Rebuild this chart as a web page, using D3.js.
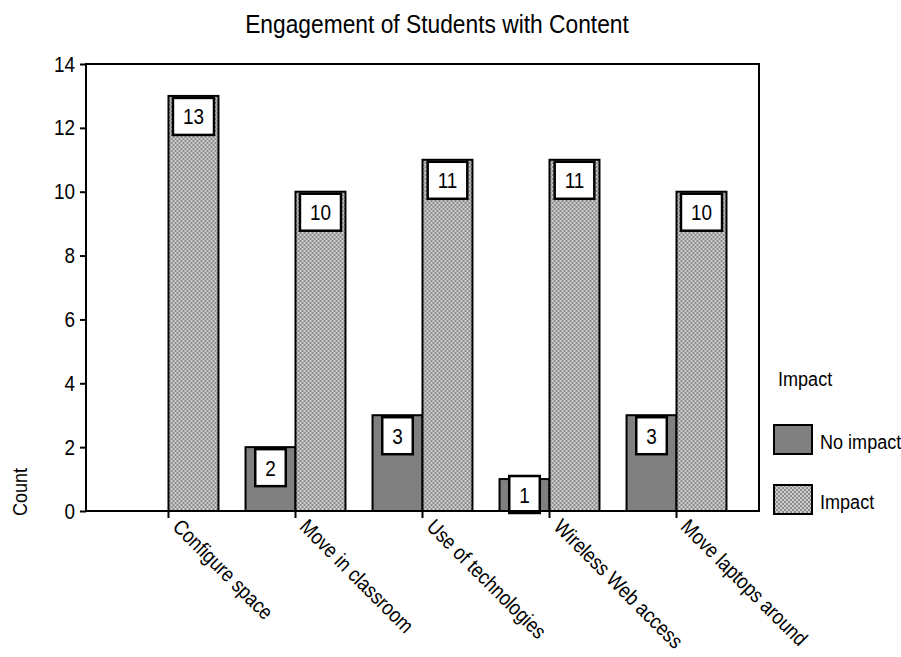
<!DOCTYPE html>
<html>
<head>
<meta charset="utf-8">
<script src="https://cdn.jsdelivr.net/npm/d3@7"></script>
<style>
body{margin:0;background:#fff}
text{font-family:"Liberation Sans",Arial,sans-serif;fill:#000}
</style>
</head>
<body>
<svg id="chart"></svg>
<script>
const categories = ['Configure space','Move in classroom','Use of technologies','Wireless Web access','Move laptops around']
const series = ['No impact','Impact']
const noImpact = [0,2,3,1,3]
const impact = [13,10,11,11,10]
const yTicks = [0,2,4,6,8,10,12,14]

const width = 901
const height = 657
const margin = {top:64,right:142,bottom:146,left:86}
const innerWidth = width-margin.left-margin.right
const innerHeight = height-margin.top-margin.bottom
const FONT = '"Liberation Sans",Arial,sans-serif'
const SX = 0.86 // squeeze text sideways, the original uses a narrow face

const svg = d3.select('#chart')
  .attr('width',width)
  .attr('height',height)

// checker pattern for Impact bars
const defs = svg.append('defs')
const pat = defs.append('pattern')
  .attr('id','checker')
  .attr('width',4).attr('height',4)
  .attr('patternUnits','userSpaceOnUse')
pat.append('rect').attr('width',4).attr('height',4).attr('fill','#8a8a8a')
pat.append('rect').attr('x',0).attr('y',0).attr('width',2).attr('height',2).attr('fill','#cfcfcf')
pat.append('rect').attr('x',2).attr('y',2).attr('width',2).attr('height',2).attr('fill','#cfcfcf')

const fills = {'No impact':'#808080','Impact':'url(#checker)'}

const rows = categories.map((c,i)=>({cat:c,values:[
  {key:'No impact',value:noImpact[i]},
  {key:'Impact',value:impact[i]}
]}))

const x0 = d3.scaleBand()
  .domain(categories)
  .range([0,innerWidth])
  .paddingInner(0.213)
  .paddingOuter(0.256)

const x1 = d3.scaleBand()
  .domain(series)
  .range([0,x0.bandwidth()])

const y = d3.scaleLinear()
  .domain([0,14])
  .range([innerHeight,0])

const g = svg.append('g')
  .attr('transform',`translate(${margin.left},${margin.top})`)

// title
svg.append('text')
  .attr('transform',`translate(437,33) scale(${SX},1)`)
  .attr('text-anchor','middle')
  .attr('font-size',26.5)
  .text('Engagement of Students with Content')

// bars
const groups = g.selectAll('.grp')
  .data(rows)
  .enter().append('g')
  .attr('class','grp')
  .attr('transform',d=>`translate(${x0(d.cat)},0)`)

groups.selectAll('rect.bar')
  .data(d=>d.values.filter(v=>v.value>0))
  .enter().append('rect')
  .attr('class','bar')
  .attr('x',d=>x1(d.key))
  .attr('width',x1.bandwidth())
  .attr('y',d=>y(d.value))
  .attr('height',d=>innerHeight-y(d.value))
  .attr('fill',d=>fills[d.key])
  .attr('stroke','#000')
  .attr('stroke-width',2)

// value label boxes
groups.selectAll('g.lab')
  .data(d=>d.values.filter(v=>v.value>0))
  .enter().append('g')
  .attr('class','lab')
  .each(function(d){
    const lg = d3.select(this)
    const cx = x1(d.key)+x1.bandwidth()/2
    const t = lg.append('text')
      .attr('font-size',22)
      .attr('text-anchor','middle')
      .text(d.value)
    const w = t.node().getComputedTextLength()*SX+20
    const h = 37
    const top = Math.min(y(d.value)+2, innerHeight+2-h)
    lg.insert('rect','text')
      .attr('x',cx-w/2).attr('y',top)
      .attr('width',w).attr('height',h)
      .attr('fill','#fff')
      .attr('stroke','#000')
      .attr('stroke-width',2.5)
    t.attr('transform',`translate(${cx},${top+h/2+8}) scale(${SX},1)`)
  })

// frame
g.append('rect')
  .attr('width',innerWidth).attr('height',innerHeight)
  .attr('fill','none')
  .attr('stroke','#000')
  .attr('stroke-width',2)

// y axis
const yAxis = d3.axisLeft(y).tickValues(yTicks).tickSize(6).tickFormat(d3.format('d'))
const ya = g.append('g').call(yAxis)
ya.select('.domain').remove()
ya.selectAll('line').attr('stroke','#000').attr('stroke-width',2)
ya.selectAll('text')
  .attr('font-size',22)
  .attr('font-family',FONT)
  .attr('x',0)
  .attr('transform',`translate(-11,0) scale(${SX},1)`)

// x axis
const xAxis = d3.axisBottom(x0).tickSize(7)
const xa = g.append('g')
  .attr('transform',`translate(0,${innerHeight})`)
  .call(xAxis)
xa.select('.domain').remove()
xa.selectAll('line').attr('stroke','#000').attr('stroke-width',2)
xa.selectAll('text')
  .attr('font-size',21)
  .attr('font-family',FONT)
  .attr('text-anchor','start')
  .attr('dy',null)
  .attr('y',0)
  .attr('transform',`translate(3,17) rotate(45) scale(${SX},1)`)

// y axis title
svg.append('text')
  .attr('transform',`translate(27,492) rotate(-90) scale(${SX},1)`)
  .attr('text-anchor','middle')
  .attr('font-size',21)
  .text('Count')

// legend
const legend = svg.append('g').attr('transform','translate(774,0)')
legend.append('text')
  .attr('transform',`translate(4,386) scale(${SX},1)`)
  .attr('font-size',21).text('Impact')
const li = legend.selectAll('.li')
  .data(series)
  .enter().append('g')
  .attr('class','li')
  .attr('transform',(d,i)=>`translate(0,${425+i*60})`)
li.append('rect')
  .attr('width',38).attr('height',29)
  .attr('fill',d=>fills[d])
  .attr('stroke','#000').attr('stroke-width',2)
li.append('text')
  .attr('transform',`translate(46,24) scale(${SX},1)`)
  .attr('font-size',21)
  .text(d=>d)
</script>
</body>
</html>
